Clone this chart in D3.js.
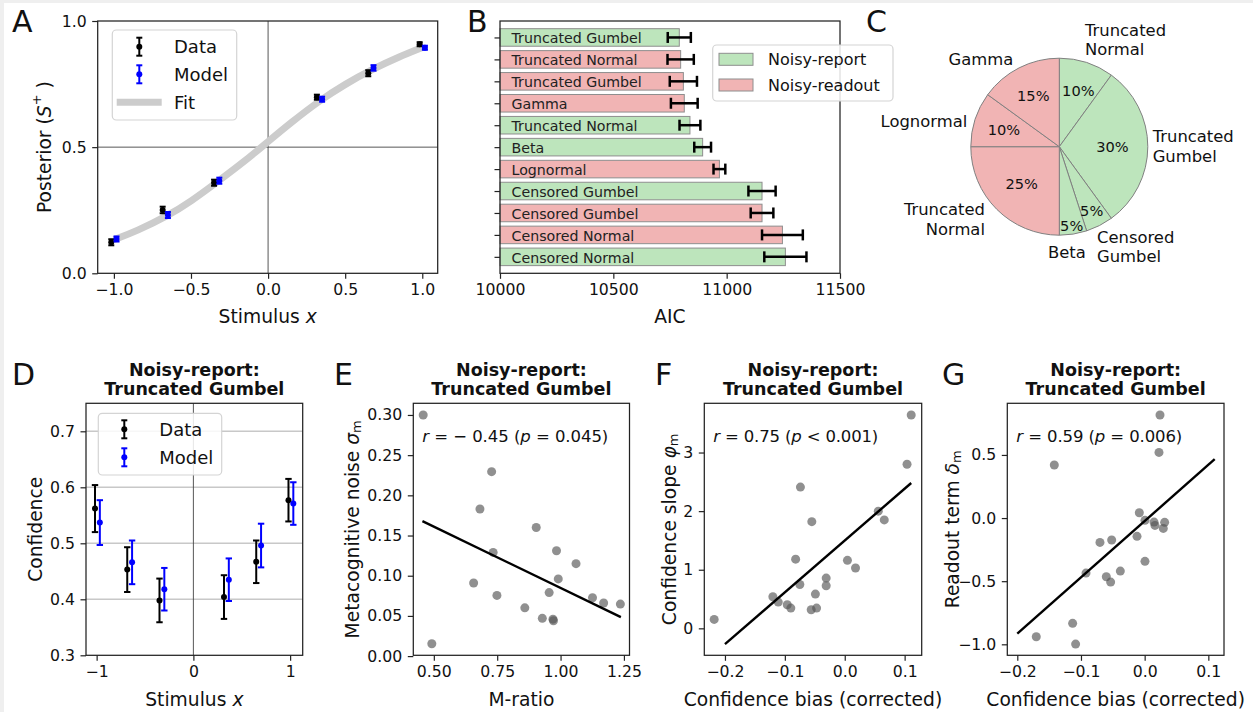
<!DOCTYPE html>
<html>
<head>
<meta charset="utf-8">
<script src="https://cdn.jsdelivr.net/npm/d3@7"></script>
<style>
  body { margin: 0; background: #fff; }
  svg { display: block; font-family: "DejaVu Sans", sans-serif; }
</style>
</head>
<body>
<svg id="fig" width="1253" height="712"></svg>
<script>
// ---- data ----
// A: posterior vs stimulus
const stimLevels = [-1, -2 / 3, -1 / 3, 1 / 3, 2 / 3, 1];
const posteriorData = [0.123, 0.251, 0.359, 0.698, 0.793, 0.908];
const posteriorDataErr = [0.012, 0.013, 0.012, 0.01, 0.012, 0.008];
const posteriorModel = [0.136, 0.231, 0.367, 0.69, 0.814, 0.894];
const posteriorModelErr = [0.01, 0.012, 0.012, 0.01, 0.011, 0.008];
const fitX = [-1.0, -0.85, -0.65, -0.5, -0.33, -0.15, 0, 0.15, 0.33, 0.5, 0.68, 0.85, 1.0];
const fitY = [0.133, 0.168, 0.228, 0.285, 0.362, 0.445, 0.522, 0.598, 0.683, 0.75, 0.81, 0.858, 0.895];

// B: AIC per model
const modelNames = ["Truncated Gumbel", "Truncated Normal", "Truncated Gumbel", "Gamma", "Truncated Normal",
  "Beta", "Lognormal", "Censored Gumbel", "Censored Gumbel", "Censored Normal", "Censored Normal"];
const modelFamily = ["report", "readout", "readout", "readout", "report", "report", "readout",
  "report", "readout", "readout", "report"];
const aicMean = [10791, 10797, 10809, 10813, 10838, 10894, 10968, 11156, 11156, 11246, 11259];
const aicErr = [51, 58, 60, 59, 46, 37, 26, 60, 50, 90, 93];

// C: best-model shares
const pieNames = ["Truncated\nNormal", "Truncated\nGumbel", "Censored\nGumbel", "Beta",
  "Truncated\nNormal", "Lognormal", "Gamma"];
const pieFamily = ["report", "report", "report", "report", "readout", "readout", "readout"];
const pieShares = [10, 30, 5, 5, 25, 10, 15];

// D: confidence vs stimulus
const confData = [0.562, 0.453, 0.398, 0.404, 0.467, 0.577];
const confDataErr = [0.042, 0.04, 0.039, 0.039, 0.038, 0.038];
const confModel = [0.537, 0.466, 0.418, 0.435, 0.496, 0.571];
const confModelErr = [0.04, 0.039, 0.038, 0.038, 0.039, 0.038];

// E: metacognitive noise vs M-ratio
const mRatio = [0.458, 0.492, 0.728, 0.682, 0.734, 0.657, 0.749, 0.904, 0.984, 0.859, 0.928,
  0.955, 0.991, 1.061, 0.970, 0.972, 1.126, 1.170, 1.236];
const sigmaM = [0.300, 0.0154, 0.2295, 0.183, 0.129, 0.091, 0.0755, 0.160, 0.131, 0.060, 0.047,
  0.079, 0.096, 0.115, 0.046, 0.044, 0.0726, 0.066, 0.0647];
const fitE = [[0.455, 0.168], [1.238, 0.0484]];

// F: confidence slope vs bias
const biasF = [-0.218, 0.111, 0.104, -0.074, -0.055, 0.056, 0.066, -0.082, 0.0045, 0.018,
  -0.031, -0.031, -0.075, -0.049, -0.12, -0.111, -0.096, -0.09, -0.056, -0.047];
const slopeF = [0.153, 3.64, 2.80, 2.41, 1.82, 2.00, 1.85, 1.18, 1.16, 1.03,
  0.857, 0.726, 0.749, 0.584, 0.539, 0.448, 0.403, 0.346, 0.318, 0.346];
const fitF = [[-0.2, -0.27], [0.111, 2.48]];

// G: readout term vs bias
const biasG = [0.0241, 0.0225, -0.1419, -0.0084, 0.0005, 0.0147, 0.0162, 0.0314, 0.0293, -0.012,
  -0.0702, -0.0518, 0.0005, -0.0382, -0.0602, -0.0534, -0.0921, -0.1131, -0.1702, -0.1084];
const deltaG = [0.816, 0.520, 0.420, 0.042, -0.018, -0.032, -0.058, -0.034, -0.082, -0.145,
  -0.193, -0.174, -0.343, -0.42, -0.465, -0.507, -0.436, -0.834, -0.94, -0.998];
const fitG = [[-0.2, -0.916], [0.11, 0.467]];

// ---- style ----
const FONT = "'DejaVu Sans', sans-serif";
const GREEN = "#bde5bc", RED = "#f1b4b4", EDGE = "#8e8e8e";
const famColor = f => (f === "report" ? GREEN : RED);
const TICK_FS = 15.7, LABEL_FS = 18.7;

const svg = d3.select("#fig");
svg.append("rect").attr("width", 1253).attr("height", 712).attr("fill", "#efefef");
svg.append("rect").attr("x", 4).attr("y", 3).attr("width", 1249).attr("height", 709).attr("fill", "#fff");

function addAxes(g, box, xs, ys, xt, xf, yt, yf) {
  const ax = g.append("g").attr("transform", `translate(0,${box.y1})`)
    .call(d3.axisBottom(xs).tickValues(xt).tickFormat(xf).tickSize(5.5).tickPadding(5.5));
  const ay = g.append("g").attr("transform", `translate(${box.x0},0)`)
    .call(d3.axisLeft(ys).tickValues(yt).tickFormat(yf).tickSize(5.5).tickPadding(5.5));
  [ax, ay].forEach(a => {
    a.attr("font-family", FONT).attr("font-size", TICK_FS);
    a.select(".domain").remove();
    a.selectAll(".tick line").attr("stroke", "#222").attr("stroke-width", 1.2);
    a.selectAll(".tick text").attr("fill", "#111");
  });
}

function frame(g, box) {
  g.append("rect").attr("x", box.x0).attr("y", box.y0)
    .attr("width", box.x1 - box.x0).attr("height", box.y1 - box.y0)
    .attr("fill", "none").attr("stroke", "#222").attr("stroke-width", 1.25);
}

function xLabel(g, box, y, parts) {
  const t = g.append("text").attr("x", (box.x0 + box.x1) / 2).attr("y", y)
    .attr("text-anchor", "middle").attr("font-size", LABEL_FS).attr("fill", "#111");
  parts.forEach(p => t.append("tspan").attr("font-style", p.i ? "italic" : null).text(p.t));
}

function yLabel(g, box, x, parts) {
  const t = g.append("text")
    .attr("transform", `translate(${x},${(box.y0 + box.y1) / 2}) rotate(-90)`)
    .attr("text-anchor", "middle").attr("dominant-baseline", "central")
    .attr("font-size", LABEL_FS).attr("fill", "#111");
  parts.forEach(p => {
    const s = t.append("tspan").text(p.t);
    if (p.i) s.attr("font-style", "italic");
    if (p.sub) s.attr("font-size", 13).attr("dy", 4);
    if (p.sup) s.attr("font-size", 13).attr("dy", -8);
    if (p.back) s.attr("dy", p.back);
  });
}

function panelLetter(x, y, s) {
  svg.append("text").attr("x", x).attr("y", y).attr("font-size", 30).attr("fill", "#111").text(s);
}

function title(box, y) {
  const cx = (box.x0 + box.x1) / 2;
  ["Noisy-report:", "Truncated Gumbel"].forEach((s, i) => {
    svg.append("text").attr("x", cx).attr("y", y + i * 19).attr("text-anchor", "middle")
      .attr("font-size", 17.5).attr("font-weight", "bold").attr("fill", "#111").text(s);
  });
}

function errorbars(g, xs, ys, xv, yv, ev, color, lw, cap, r) {
  xv.forEach((x, i) => {
    const px = xs(x), lo = ys(yv[i] - ev[i]), hi = ys(yv[i] + ev[i]);
    g.append("line").attr("x1", px).attr("x2", px).attr("y1", lo).attr("y2", hi)
      .attr("stroke", color).attr("stroke-width", lw);
    [lo, hi].forEach(yy => g.append("line").attr("x1", px - cap).attr("x2", px + cap)
      .attr("y1", yy).attr("y2", yy).attr("stroke", color).attr("stroke-width", lw));
    g.append("circle").attr("cx", px).attr("cy", ys(yv[i])).attr("r", r).attr("fill", color);
  });
}

function legendBox(g, x0, y0, x1, y1) {
  g.append("rect").attr("x", x0).attr("y", y0).attr("width", x1 - x0).attr("height", y1 - y0)
    .attr("rx", 4).attr("fill", "#fff").attr("fill-opacity", 0.85)
    .attr("stroke", "#d4d4d4").attr("stroke-width", 1.2);
}

function errIcon(g, x, y, color, half) {
  g.append("line").attr("x1", x).attr("x2", x).attr("y1", y - half).attr("y2", y + half)
    .attr("stroke", color).attr("stroke-width", 2);
  [y - half, y + half].forEach(yy => g.append("line").attr("x1", x - 3).attr("x2", x + 3)
    .attr("y1", yy).attr("y2", yy).attr("stroke", color).attr("stroke-width", 2));
  g.append("circle").attr("cx", x).attr("cy", y).attr("r", 3).attr("fill", color);
}

// ---- A ----
{
  const box = { x0: 97.7, x1: 437.7, y0: 21, y1: 273.3 };
  const g = svg.append("g");
  const xs = d3.scaleLinear().domain([-1.105, 1.1]).range([box.x0, box.x1]);
  const ys = d3.scaleLinear().domain([0, 1]).range([box.y1, box.y0]);
  g.append("line").attr("x1", box.x0).attr("x2", box.x1).attr("y1", ys(0.5)).attr("y2", ys(0.5))
    .attr("stroke", "#444").attr("stroke-width", 0.9);
  g.append("line").attr("x1", xs(0)).attr("x2", xs(0)).attr("y1", box.y0).attr("y2", box.y1)
    .attr("stroke", "#444").attr("stroke-width", 0.9);
  g.append("path").datum(fitX.map((x, i) => [x, fitY[i]]))
    .attr("d", d3.line().x(d => xs(d[0])).y(d => ys(d[1])).curve(d3.curveBasis))
    .attr("fill", "none").attr("stroke", "#cccccc").attr("stroke-width", 7);
  errorbars(g, xs, ys, stimLevels.map(s => s - 0.017), posteriorData, posteriorDataErr, "#000", 2, 3, 3);
  errorbars(g, xs, ys, stimLevels.map(s => s + 0.017), posteriorModel, posteriorModelErr, "#0000ff", 2, 3, 3);
  addAxes(g, box, xs, ys, [-1, -0.5, 0, 0.5, 1], d3.format(".1f"), [0, 0.5, 1], d3.format(".1f"));
  frame(g, box);
  legendBox(g, 112.3, 30, 236.7, 120);
  errIcon(g, 139.3, 46.7, "#000", 9);
  errIcon(g, 139.3, 74.3, "#0000ff", 9);
  g.append("line").attr("x1", 116.7).attr("x2", 161.7).attr("y1", 102.3).attr("y2", 102.3)
    .attr("stroke", "#cccccc").attr("stroke-width", 7);
  ["Data", "Model", "Fit"].forEach((s, i) => g.append("text").attr("x", 174).attr("y", [46.7, 74.3, 102.3][i])
    .attr("dominant-baseline", "central").attr("font-size", 18).attr("fill", "#111").text(s));
  xLabel(g, box, 323, [{ t: "Stimulus " }, { t: "x", i: true }]);
  yLabel(g, box, 43.5, [{ t: "Posterior (" }, { t: "S", i: true }, { t: "+", sup: true }, { t: " )", back: 8 }]);
  panelLetter(12, 32, "A");
}

// ---- B ----
{
  const box = { x0: 500, x1: 840, y0: 21, y1: 273.3 };
  const g = svg.append("g");
  const xs = d3.scaleLinear().domain([10000, 11500]).range([box.x0, box.x1]);
  const ys = d3.scaleLinear().domain([-0.75, 10.75]).range([box.y0, box.y1]);
  const bh = ys(0.8) - ys(0);
  modelNames.forEach((name, i) => {
    g.append("rect").attr("x", xs(10000)).attr("y", ys(i) - bh / 2)
      .attr("width", xs(aicMean[i]) - xs(10000)).attr("height", bh)
      .attr("fill", famColor(modelFamily[i])).attr("stroke", EDGE).attr("stroke-width", 1);
    g.append("text").attr("x", xs(10000) + 11.5).attr("y", ys(i) + 1)
      .attr("dominant-baseline", "central").attr("font-size", 14.2).attr("fill", "#222").text(name);
    const lo = xs(aicMean[i] - aicErr[i]), hi = xs(aicMean[i] + aicErr[i]), cy = ys(i);
    g.append("line").attr("x1", lo).attr("x2", hi).attr("y1", cy).attr("y2", cy)
      .attr("stroke", "#000").attr("stroke-width", 2.5);
    [lo, hi].forEach(x => g.append("line").attr("x1", x).attr("x2", x).attr("y1", cy - 5.5).attr("y2", cy + 5.5)
      .attr("stroke", "#000").attr("stroke-width", 2.5));
  });
  addAxes(g, box, xs, ys, [10000, 10500, 11000, 11500], d3.format("d"), d3.range(modelNames.length), () => "");
  frame(g, box);
  legendBox(g, 712.7, 45, 893, 101);
  [["report", "Noisy-report", 59.3], ["readout", "Noisy-readout", 85]].forEach(([f, s, y]) => {
    g.append("rect").attr("x", 719).attr("y", y - 6).attr("width", 34).attr("height", 12)
      .attr("fill", famColor(f)).attr("stroke", EDGE).attr("stroke-width", 1);
    g.append("text").attr("x", 768).attr("y", y).attr("dominant-baseline", "central")
      .attr("font-size", 16).attr("fill", "#111").text(s);
  });
  xLabel(g, box, 323, [{ t: "AIC" }]);
  panelLetter(467, 32, "B");
}

// ---- C ----
{
  const cx = 1059.3, cy = 146.7, R = 88.5;
  const g = svg.append("g").attr("transform", `translate(${cx},${cy})`);
  const arcs = d3.pie().sort(null).value(d => d)(pieShares);
  const arc = d3.arc().innerRadius(0).outerRadius(R);
  g.selectAll("path.slice").data(arcs).join("path").attr("class", "slice").attr("d", arc)
    .attr("fill", (d, i) => famColor(pieFamily[i])).attr("stroke", "#808080").attr("stroke-width", 1);
  // label placement in radius units: [dx, dy, anchor]
  const labelPos = [[0.29, -1.206, "start"], [1.055, 0, "start"], [0.426, 1.133, "start"],
    [-0.128, 1.19, "start"], [-0.84, 0.82, "end"], [-1.04, -0.29, "end"], [-0.52, -0.99, "end"]];
  const pctPos = [[0.215, -0.633], [0.6, 0], [0.366, 0.723], [0.14, 0.885],
    [-0.425, 0.414], [-0.625, -0.189], [-0.294, -0.584]];
  pieNames.forEach((name, i) => {
    const lines = name.split("\n");
    const [dx, dy, anchor] = labelPos[i];
    lines.forEach((ln, k) => g.append("text").attr("x", dx * R)
      .attr("y", dy * R + (k - (lines.length - 1) / 2) * 19.5)
      .attr("text-anchor", anchor).attr("dominant-baseline", "central")
      .attr("font-size", 16.4).attr("fill", "#111").text(ln));
    g.append("text").attr("x", pctPos[i][0] * R).attr("y", pctPos[i][1] * R)
      .attr("text-anchor", "middle").attr("dominant-baseline", "central")
      .attr("font-size", 14.6).attr("fill", "#111").text(pieShares[i] + "%");
  });
  panelLetter(866, 32, "C");
}

// ---- D ----
{
  const box = { x0: 86, x1: 302.7, y0: 403.3, y1: 655.3 };
  const g = svg.append("g");
  const xs = d3.scaleLinear().domain([-1.11, 1.13]).range([box.x0, box.x1]);
  const ys = d3.scaleLinear().domain([0.3, 0.75]).range([box.y1, box.y0]);
  [0.4, 0.5, 0.6, 0.7].forEach(v => g.append("line").attr("x1", box.x0).attr("x2", box.x1)
    .attr("y1", ys(v)).attr("y2", ys(v)).attr("stroke", "#c8c8c8").attr("stroke-width", 1.5));
  g.append("line").attr("x1", xs(0)).attr("x2", xs(0)).attr("y1", box.y0).attr("y2", box.y1)
    .attr("stroke", "#444").attr("stroke-width", 0.9);
  errorbars(g, xs, ys, stimLevels.map(s => s - 0.017), confData, confDataErr, "#000", 2, 3.2, 3);
  errorbars(g, xs, ys, stimLevels.map(s => s + 0.033), confModel, confModelErr, "#0000ff", 2, 3.2, 3);
  addAxes(g, box, xs, ys, [-1, 0, 1], d3.format("d"), [0.3, 0.4, 0.5, 0.6, 0.7], d3.format(".1f"));
  frame(g, box);
  legendBox(g, 98.3, 413.3, 221.7, 475);
  errIcon(g, 124.3, 429.3, "#000", 9);
  errIcon(g, 124.3, 457.3, "#0000ff", 9);
  ["Data", "Model"].forEach((s, i) => g.append("text").attr("x", 159.3).attr("y", [429.3, 457.3][i])
    .attr("dominant-baseline", "central").attr("font-size", 18).attr("fill", "#111").text(s));
  xLabel(g, box, 705.5, [{ t: "Stimulus " }, { t: "x", i: true }]);
  yLabel(g, box, 35, [{ t: "Confidence" }]);
  title(box, 375.5);
  panelLetter(12, 385, "D");
}

// ---- E, F, G scatter panels ----
function scatterPanel(box, xDom, yDom, xv, yv, fit, xt, xf, yt, yf, stat, statW) {
  const g = svg.append("g");
  const xs = d3.scaleLinear().domain(xDom).range([box.x0, box.x1]);
  const ys = d3.scaleLinear().domain(yDom).range([box.y1, box.y0]);
  g.selectAll("circle.pt").data(xv).join("circle").attr("class", "pt")
    .attr("cx", d => xs(d)).attr("cy", (d, i) => ys(yv[i])).attr("r", 4.5)
    .attr("fill", "#555").attr("fill-opacity", 0.65);
  g.append("line").attr("x1", xs(fit[0][0])).attr("y1", ys(fit[0][1]))
    .attr("x2", xs(fit[1][0])).attr("y2", ys(fit[1][1]))
    .attr("stroke", "#000").attr("stroke-width", 2.4);
  addAxes(g, box, xs, ys, xt, xf, yt, yf);
  frame(g, box);
  const t = g.append("text").attr("x", box.x0 + 9).attr("y", box.y0 + 33)
    .attr("dominant-baseline", "central").attr("font-size", 16.5).attr("fill", "#111")
    .attr("textLength", statW).attr("lengthAdjust", "spacing");
  stat.forEach(p => t.append("tspan").attr("font-style", p.i ? "italic" : null).text(p.t));
  return g;
}

{
  const box = { x0: 413.3, x1: 629.5, y0: 403.3, y1: 655.3 };
  const g = scatterPanel(box, [0.419, 1.272], [0.001, 0.3145], mRatio, sigmaM, fitE,
    [0.5, 0.75, 1.0, 1.25], d3.format(".2f"), [0, 0.05, 0.1, 0.15, 0.2, 0.25, 0.3], d3.format(".2f"),
    [{ t: "r", i: true }, { t: " =  − 0.45  (" }, { t: "p", i: true }, { t: " = 0.045)" }], 186);
  xLabel(g, box, 705.5, [{ t: "M-ratio" }]);
  yLabel(g, box, 351.5, [{ t: "Metacognitive noise " }, { t: "σ", i: true }, { t: "m", sub: true }]);
  title(box, 375.5);
  panelLetter(334, 385, "E");
}
{
  const box = { x0: 704.3, x1: 921.7, y0: 403.3, y1: 655.3 };
  const g = scatterPanel(box, [-0.2345, 0.1285], [-0.46, 3.84], biasF, slopeF, fitF,
    [-0.2, -0.1, 0, 0.1], d3.format(".1f"), [0, 1, 2, 3], d3.format("d"),
    [{ t: "r", i: true }, { t: " = 0.75  (" }, { t: "p", i: true }, { t: " < 0.001)" }], 165);
  xLabel(g, box, 705.5, [{ t: "Confidence bias (corrected)" }]);
  yLabel(g, box, 669, [{ t: "Confidence slope " }, { t: "φ", i: true }, { t: "m", sub: true }]);
  title(box, 375.5);
  panelLetter(655, 385, "F");
}
{
  const box = { x0: 1007.3, x1: 1224, y0: 403.3, y1: 655.3 };
  const g = scatterPanel(box, [-0.2157, 0.1246], [-1.087, 0.909], biasG, deltaG, fitG,
    [-0.2, -0.1, 0, 0.1], d3.format(".1f"), [-1, -0.5, 0, 0.5], d3.format(".1f"),
    [{ t: "r", i: true }, { t: " = 0.59  (" }, { t: "p", i: true }, { t: " = 0.006)" }], 166);
  xLabel(g, box, 705.5, [{ t: "Confidence bias (corrected)" }]);
  yLabel(g, box, 951.5, [{ t: "Readout term " }, { t: "δ", i: true }, { t: "m", sub: true }]);
  title(box, 375.5);
  panelLetter(942, 385, "G");
}
</script>
</body>
</html>
